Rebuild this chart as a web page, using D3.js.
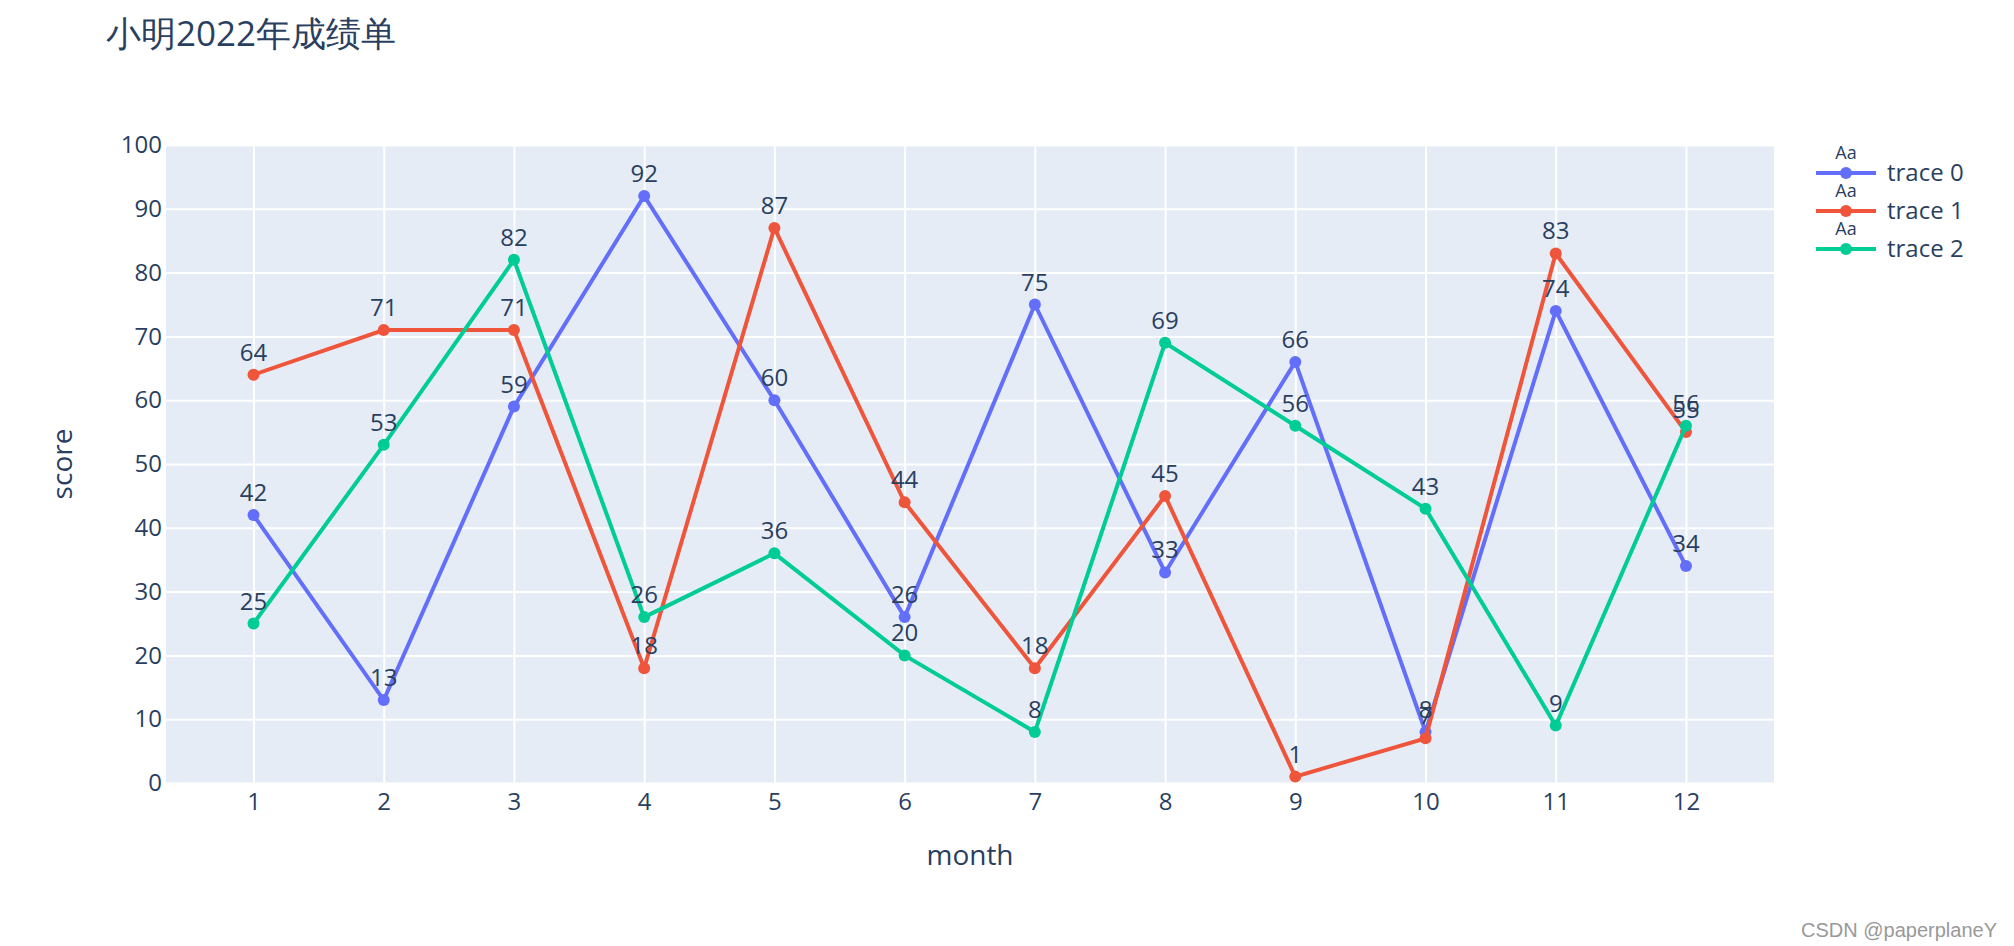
<!DOCTYPE html>
<html><head><meta charset="utf-8">
<script src="https://cdn.jsdelivr.net/npm/d3@7"></script>
<style>body{margin:0;background:#fff}svg{display:block}</style>
</head><body>
<svg id="c" width="2014" height="946"></svg>
<script>
const months = [1,2,3,4,5,6,7,8,9,10,11,12];
const trace0 = [42,13,59,92,60,26,75,33,66,8,74,34];
const trace1 = [64,71,71,18,87,44,18,45,1,7,83,55];
const trace2 = [25,53,82,26,36,20,8,69,56,43,9,56];
const seriesNames = ["trace 0","trace 1","trace 2"];
const colors = ["#636efa","#EF553B","#00cc96"];
const yTicks = [0,10,20,30,40,50,60,70,80,90,100];
const title = "小明2022年成绩单";

const series = [trace0, trace1, trace2];
const font = "'Open Sans', verdana, arial, sans-serif";
const txt = "#2a3f5f";
const svg = d3.select("#c");
const L = 166, R = 1774, T = 145, B = 783;
const x = d3.scaleLinear().domain([0.328, 12.676]).range([L, R]);
const y = d3.scaleLinear().domain([0, 100]).range([B, T]);

svg.append("rect").attr("x", L).attr("y", T).attr("width", R-L).attr("height", B-T).attr("fill", "#E5ECF6");

const gx = svg.append("g").attr("transform", `translate(0,${B})`)
  .call(d3.axisBottom(x).tickValues(months).tickSize(-(B-T)).tickSizeOuter(0).tickPadding(10));
gx.select(".domain").remove();
gx.selectAll("line").attr("stroke", "#fff").attr("stroke-width", 2);
gx.selectAll("text").attr("fill", txt).attr("font-size", 24).attr("font-family", font);

const gy = svg.append("g").attr("transform", `translate(${L},0)`)
  .call(d3.axisLeft(y).tickValues(yTicks).tickSize(-(R-L)).tickSizeOuter(0).tickPadding(4));
gy.select(".domain").remove();
gy.selectAll("line").attr("stroke", "#fff").attr("stroke-width", 2);
gy.selectAll("text").attr("fill", txt).attr("font-size", 24).attr("font-family", font);

svg.append("text").attr("x", 106).attr("y", 46).attr("fill", txt).attr("font-size", 35)
  .attr("font-family", font).text(title);

svg.append("text").attr("x", 970).attr("y", 865).attr("text-anchor", "middle").attr("fill", txt)
  .attr("font-size", 28).attr("font-family", font).text("month");
svg.append("text").attr("transform", `translate(72,${(T+B)/2}) rotate(-90)`).attr("text-anchor", "middle")
  .attr("fill", txt).attr("font-size", 28).attr("font-family", font).text("score");

const line = d3.line().x((d,i) => x(months[i])).y(d => y(d));

series.forEach((s, k) => {
  const g = svg.append("g");
  g.append("path").datum(s).attr("d", line).attr("fill", "none").attr("stroke", colors[k]).attr("stroke-width", 4);
  g.selectAll("circle").data(s).join("circle").attr("cx", (d,i) => x(months[i])).attr("cy", d => y(d))
    .attr("r", 6).attr("fill", colors[k]);
});
series.forEach((s, k) => {
  svg.append("g").selectAll("text").data(s).join("text")
    .attr("x", (d,i) => x(months[i])).attr("y", d => y(d) - 14)
    .attr("text-anchor", "middle").attr("fill", txt).attr("font-size", 24).attr("font-family", font)
    .text(d => d);
});

const lg = svg.append("g");
seriesNames.forEach((n, k) => {
  const cy = 173 + k*38;
  lg.append("text").attr("x", 1846).attr("y", cy - 14).attr("text-anchor", "middle").attr("fill", txt)
    .attr("font-size", 18).attr("font-family", font).text("Aa");
  lg.append("line").attr("x1", 1816).attr("x2", 1876).attr("y1", cy).attr("y2", cy).attr("stroke", colors[k]).attr("stroke-width", 4);
  lg.append("circle").attr("cx", 1846).attr("cy", cy).attr("r", 6).attr("fill", colors[k]);
  lg.append("text").attr("x", 1887).attr("y", cy + 8).attr("fill", txt).attr("font-size", 24)
    .attr("font-family", font).text(n);
});

svg.append("text").attr("x", 1997).attr("y", 937).attr("text-anchor", "end").attr("fill", "#999")
  .attr("font-size", 20).attr("font-family", "Arial, 'Liberation Sans', sans-serif").text("CSDN @paperplaneY");
</script>
</body></html>
